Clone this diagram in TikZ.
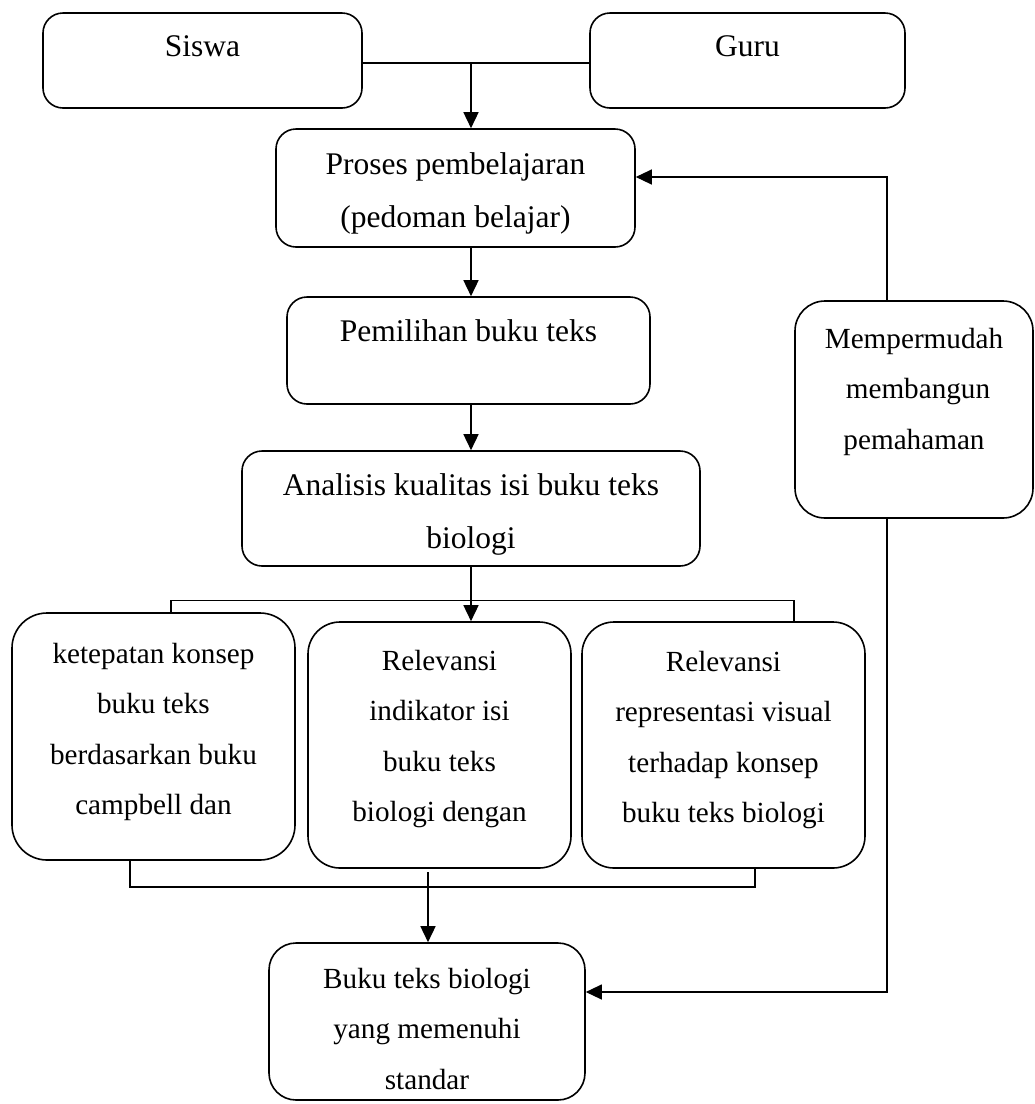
\documentclass[tikz,border=0pt]{standalone}
\usepackage{fontspec}
\setmainfont{Liberation Serif}
\usetikzlibrary{arrows.meta}
\newcommand{\topfont}{\fontsize{31.5}{53}\selectfont}
\newcommand{\botfont}{\fontsize{29.2}{50.5}\selectfont}
\newcommand{\bxt}[5]{\parbox[c][#2pt][t]{#1pt}{#3\centering\rule{0pt}{#4pt}#5}}
\begin{document}
\begin{tikzpicture}[x=1pt,y=-1pt,
  box/.style={draw, line width=1.6pt, inner sep=0pt, rounded corners=20pt},
  bigbox/.style={box, rounded corners=35pt},
  link/.style={line width=1.5pt},
  thin/.style={line width=1.2pt},
  arr/.style={-{Triangle[length=16pt,width=15pt]}}]
\useasboundingbox (0,0) rectangle (1035,1104);
\fill[white] (0,0) rectangle (1035,1104);

\node[box] (siswa) at (202.5,60.5) {\bxt{319}{95}{\topfont}{43}{Siswa}};
\node[box] (guru) at (747.5,60.5) {\bxt{315}{95}{\topfont}{43}{Guru}};
\node[box] (proses) at (455.5,188) {\bxt{359}{118}{\topfont}{45}{Proses pembelajaran\\(pedoman belajar)}};
\node[box] (pilih) at (468.5,350.5) {\bxt{363}{107}{\topfont}{44}{Pemilihan buku teks}};
\node[box] (analisis) at (471,508.5) {\bxt{458}{115}{\topfont}{44}{Analisis kualitas isi buku teks\\biologi}};
\node[bigbox] (ket) at (153.5,736.5) {\bxt{283}{247}{\botfont}{50}{ketepatan konsep\\buku teks\\berdasarkan buku\\campbell dan}};
\node[bigbox, rounded corners=32pt] (rel1) at (439.5,745) {\bxt{263}{246}{\botfont}{48}{Relevansi\\indikator isi\\buku teks\\biologi dengan}};
\node[bigbox, rounded corners=32pt] (rel2) at (723.5,745) {\bxt{283}{246}{\botfont}{49}{Relevansi\\representasi visual\\terhadap konsep\\buku teks biologi}};
\node[box, rounded corners=27pt] (buku) at (427,1021.5) {\bxt{316}{157}{\botfont}{45}{Buku teks biologi\\yang memenuhi\\standar}};
\node[box, rounded corners=30pt] (mudah) at (914,409.5) {\bxt{238}{217}{\botfont}{47}{Mempermudah\\\hspace*{8pt}membangun\\pemahaman}};

% junctions
\coordinate (j1) at (471,63);
\coordinate (ax) at (471,0);
\coordinate (b1) at (171,600.5);
\coordinate (b2) at (794,600.5);
\coordinate (c1) at (130,887);
\coordinate (c2) at (755,887);
\coordinate (d0) at (428,872);
\coordinate (f1) at (887,177);
\coordinate (f2) at (887,992);

\draw[link] (siswa.east |- j1) -- (guru.west |- j1);
\draw[link,arr] (j1) -- (j1 |- proses.north);
\draw[link,arr] (ax |- proses.south) -- (ax |- pilih.north);
\draw[link,arr] (ax |- pilih.south) -- (ax |- analisis.north);
\draw[link,arr] (ax |- analisis.south) -- (ax |- rel1.north);
\draw[thin] (b1 |- ket.north) -- (b1) -- (b2) -- (b2 |- rel2.north);
\draw[thin] (c1 |- ket.south) -- (c1) -- (c2) -- (c2 |- rel2.south);
\draw[link,arr] (d0) -- (d0 |- buku.north);
\draw[thin,arr] (f1 |- mudah.north) -- (f1) -- (proses.east |- f1);
\draw[thin,arr] (f2 |- mudah.south) -- (f2) -- (buku.east |- f2);
\end{tikzpicture}
\end{document}
